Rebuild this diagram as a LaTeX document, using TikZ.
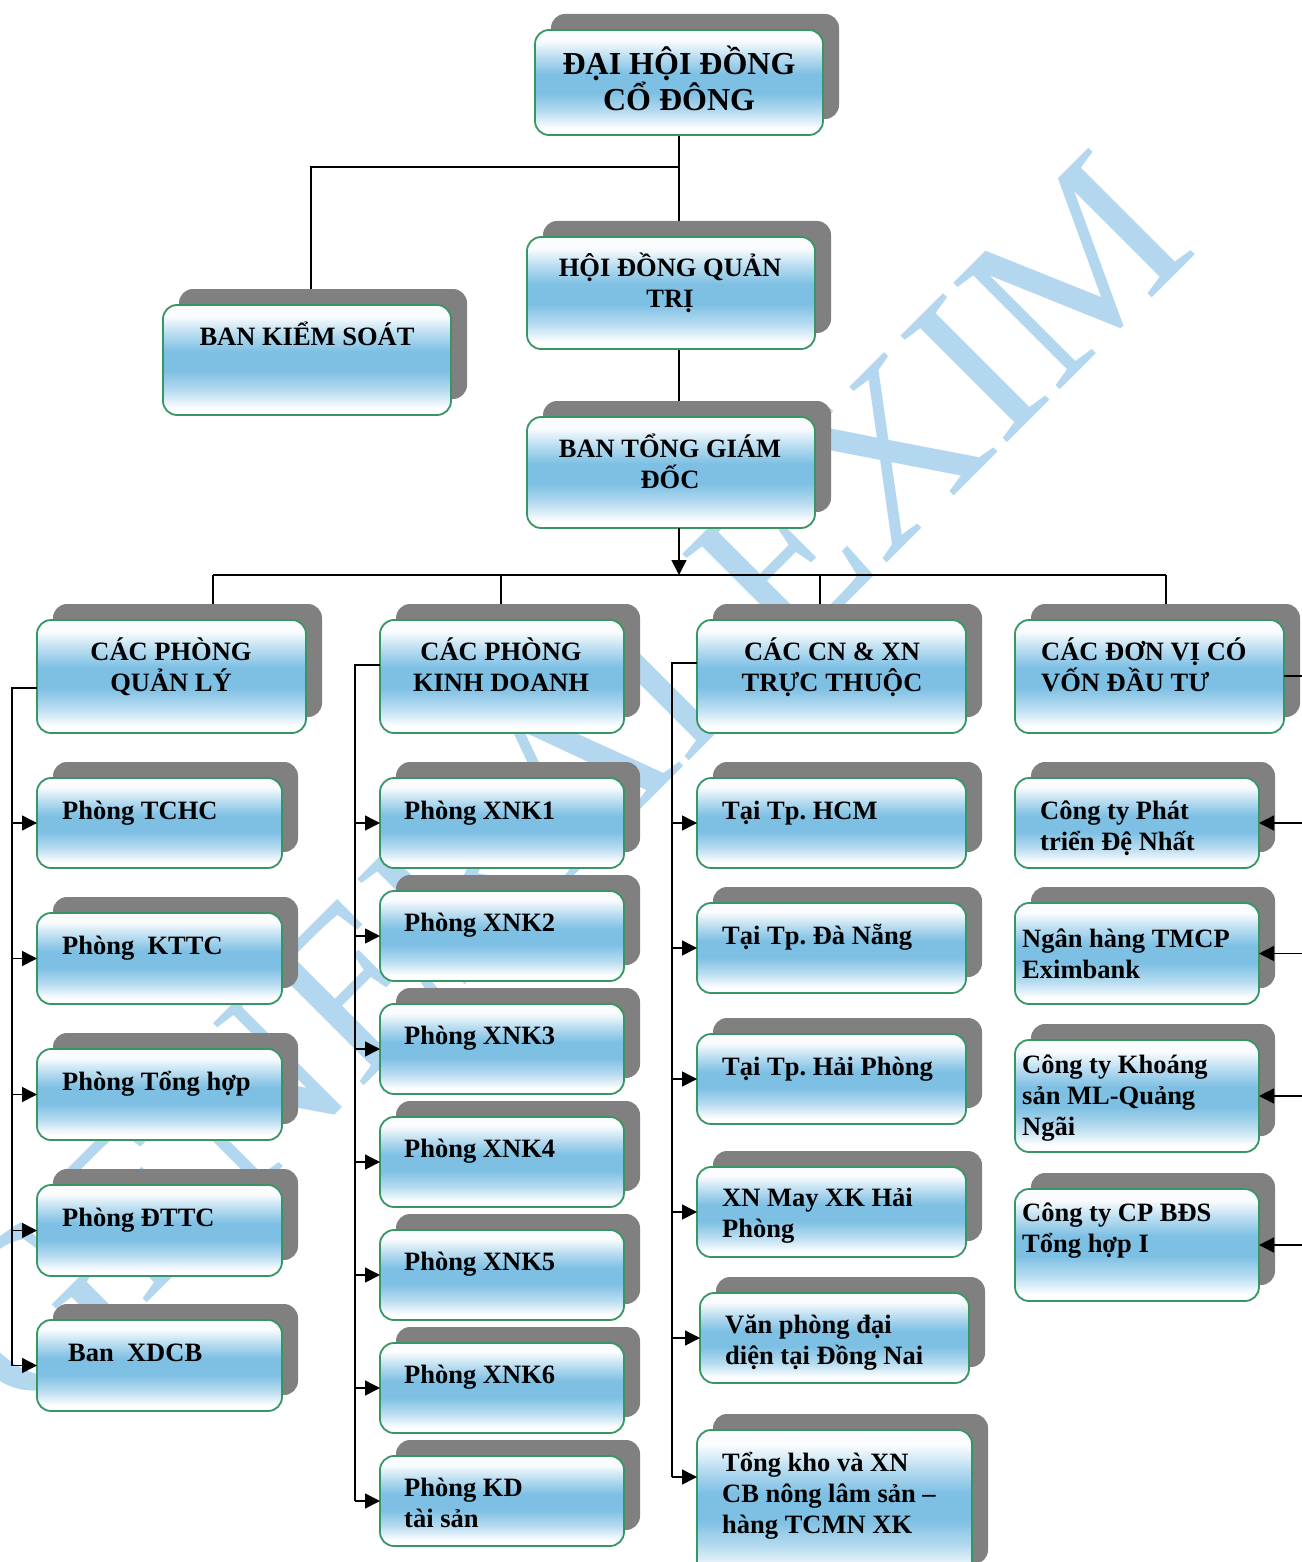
\documentclass[tikz,border=0pt]{standalone}
\usepackage{fontspec}
\setmainfont{Liberation Serif}
\usetikzlibrary{arrows.meta,backgrounds}
\definecolor{skyb}{RGB}{126,192,228}
\definecolor{boxgreen}{RGB}{55,150,100}
\definecolor{shadowc}{RGB}{128,128,128}
\definecolor{wmcol}{RGB}{180,215,240}
\pgfdeclareverticalshading{boxsh}{100bp}{color(0bp)=(white); color(28bp)=(white); color(36bp)=(skyb!55); color(45bp)=(skyb); color(54bp)=(skyb); color(62bp)=(skyb!55); color(70bp)=(white!96!skyb); color(100bp)=(white!96!skyb)}
\newcommand\bxf{\bfseries\fontsize{26.5}{31}\selectfont\lineskiplimit=-20pt\frenchspacing}
\newcommand\topf{\bfseries\fontsize{32}{36}\selectfont\lineskiplimit=-20pt}
\newcommand\orgbox[5]{%
  \fill[shadowc, rounded corners=14pt] (#2+16,#3-16) rectangle (#4+16,#5-16);
  \node[mainbox, minimum width={(#4-#2)*1pt}, minimum height={(#5-#3)*1pt}, anchor=north west] (#1) at (#2,#3) {};
}
\newcommand\ltx[4]{\node[ltxt] (#1) at (#2,#3-26) {\rule{0pt}{26pt}#4};}
\newcommand\ctx[4]{\node[ctxt] (#1) at (#2,#3-26) {\rule{0pt}{26pt}#4};}
\tikzset{
  mainbox/.style={shade, shading=boxsh, draw=boxgreen, line width=1.8pt, rounded corners=14pt, inner sep=0pt, outer sep=0pt},
  ltxt/.style={anchor=north west, inner sep=0pt, align=left, font=\bxf},
  ctxt/.style={anchor=north, inner sep=0pt, align=center, font=\bxf},
  conn/.style={draw=black, line width=1.5pt},
  arr/.style={conn, -{Triangle[length=15pt,width=15pt]}},
}
\begin{document}
\begin{tikzpicture}[x=1pt,y=-1pt]
\useasboundingbox (0,0) rectangle (1301,1562);
\begin{pgfonlayer}{background}
  \node[text=wmcol, font=\fontsize{230}{230}\selectfont, rotate=45, anchor=base east, inner sep=0pt] (wmk) at (1200,250) {GENERALEXIM};
\end{pgfonlayer}

% boxes
\orgbox{dh}{535}{30}{823}{135}
\orgbox{bks}{163}{305}{451}{415}
\orgbox{hd}{527}{237}{815}{349}
\orgbox{bt}{527}{417}{815}{528}
\orgbox{h1}{37}{620}{306}{733}
\orgbox{h2}{380}{620}{624}{733}
\orgbox{h3}{697}{620}{966}{733}
\orgbox{h4}{1015}{620}{1284}{733}
\orgbox{a1}{37}{778}{282}{868}
\orgbox{a2}{37}{913}{282}{1004}
\orgbox{a3}{37}{1049}{282}{1140}
\orgbox{a4}{37}{1185}{282}{1276}
\orgbox{a5}{37}{1320}{282}{1411}
\orgbox{b1}{380}{778}{624}{868}
\orgbox{b2}{380}{891}{624}{981}
\orgbox{b3}{380}{1004}{624}{1094}
\orgbox{b4}{380}{1117}{624}{1207}
\orgbox{b5}{380}{1230}{624}{1320}
\orgbox{b6}{380}{1343}{624}{1433}
\orgbox{b7}{380}{1456}{624}{1546}
\orgbox{c1}{697}{778}{966}{868}
\orgbox{c2}{697}{903}{966}{993}
\orgbox{c3}{697}{1034}{966}{1124}
\orgbox{c4}{697}{1167}{966}{1257}
\orgbox{c5}{700}{1293}{969}{1383}
\orgbox{c6}{697}{1430}{972}{1580}
\orgbox{d1}{1015}{778}{1259}{868}
\orgbox{d2}{1015}{903}{1259}{1004}
\orgbox{d3}{1015}{1040}{1259}{1152}
\orgbox{d4}{1015}{1189}{1259}{1301}

% texts
\node[ctxt, font=\topf] (tdh) at (679,74-31) {\rule{0pt}{31pt}ĐẠI HỘI ĐỒNG\\CỔ ĐÔNG};
\ctx{tbks}{307}{345}{BAN KIỂM SOÁT}
\ctx{thd}{670}{276}{HỘI ĐỒNG QUẢN\\TRỊ}
\ctx{tbt}{670}{457}{BAN TỔNG GIÁM\\ĐỐC}
\ctx{th1}{171}{660}{CÁC PHÒNG\\QUẢN LÝ}
\ctx{th2}{501}{660}{CÁC PHÒNG\\KINH DOANH}
\ctx{th3}{832}{660}{CÁC CN \& XN\\TRỰC THUỘC}
\ltx{th4}{1041}{660}{CÁC ĐƠN VỊ CÓ\\VỐN ĐẦU TƯ}
\ltx{ta1}{62}{819}{Phòng TCHC}
\ltx{ta2}{62}{954}{Phòng\ \ KTTC}
\ltx{ta3}{62}{1090}{Phòng Tổng hợp}
\ltx{ta4}{62}{1226}{Phòng ĐTTC}
\ltx{ta5}{68}{1361}{Ban\ \ XDCB}
\ltx{tb1}{404}{819}{Phòng XNK1}
\ltx{tb2}{404}{931}{Phòng XNK2}
\ltx{tb3}{404}{1044}{Phòng XNK3}
\ltx{tb4}{404}{1157}{Phòng XNK4}
\ltx{tb5}{404}{1270}{Phòng XNK5}
\ltx{tb6}{404}{1383}{Phòng XNK6}
\ltx{tb7}{404}{1496}{Phòng KD\\tài sản}
\ltx{tc1}{722}{819}{Tại Tp. HCM}
\ltx{tc2}{722}{944}{Tại Tp. Đà Nẵng}
\ltx{tc3}{722}{1075}{Tại Tp. Hải Phòng}
\ltx{tc4}{722}{1206}{XN May XK Hải\\Phòng}
\ltx{tc5}{725}{1333}{Văn phòng đại\\diện tại Đồng Nai}
\ltx{tc6}{722}{1471}{Tổng kho và XN\\CB nông lâm sản –\\hàng TCMN XK}
\ltx{td1}{1040}{819}{Công ty Phát\\triển Đệ Nhất}
\ltx{td2}{1022}{947}{Ngân hàng TMCP\\Eximbank}
\ltx{td3}{1022}{1073}{Công ty Khoáng\\sản ML-Quảng\\Ngãi}
\ltx{td4}{1022}{1221}{Công ty CP BĐS\\Tổng hợp I}

% connectors under the boxes
\begin{pgfonlayer}{background}
  \coordinate (j1) at (679,167);
  \coordinate (bus) at (679,575);
  \coordinate (p1) at (213,575);
  \coordinate (p2) at (501,575);
  \coordinate (p3) at (820,575);
  \coordinate (p4) at (1166,575);
  \draw[conn] (dh.south -| j1) -- (j1 |- hd.north);
  \draw[conn] (j1) -| ([xshift=4pt]bks.north);
  \draw[conn] (hd.south -| j1) -- (j1 |- bt.north);
  \draw[conn] (p1) -- (p4);
  \foreach \p/\h in {p1/h1,p2/h2,p3/h3,p4/h4} \draw[conn] (\p) -- (\p |- \h.north);
\end{pgfonlayer}

% connectors over the boxes
\draw[arr] (bt.south -| j1) -- (bus);
\coordinate (s1) at (12,688);
\coordinate (s2) at (355,665);
\coordinate (s3) at (672,663);
\coordinate (s4) at (1312,676);
\draw[conn] (h1.west |- s1) -- (s1) -- (s1 |- a5.west);
\foreach \n in {a1,a2,a3,a4,a5} \draw[arr] (s1 |- \n.west) -- (\n.west);
\draw[conn] (h2.west |- s2) -- (s2) -- (s2 |- b7.west);
\foreach \n in {b1,b2,b3,b4,b5,b6,b7} \draw[arr] (s2 |- \n.west) -- (\n.west);
\coordinate (c6in) at ([yshift=28pt]c6.west);
\draw[conn] (h3.west |- s3) -- (s3) -- (s3 |- c6in);
\foreach \n in {c1,c2,c3,c4,c5} \draw[arr] (s3 |- \n.west) -- (\n.west);
\draw[arr] (s3 |- c6in) -- (c6in);
\draw[conn] (h4.east |- s4) -- (s4) -- (s4 |- d4.east);
\foreach \n in {d1,d2,d3,d4} \draw[arr] (s4 |- \n.east) -- (\n.east);
\end{tikzpicture}
\end{document}
